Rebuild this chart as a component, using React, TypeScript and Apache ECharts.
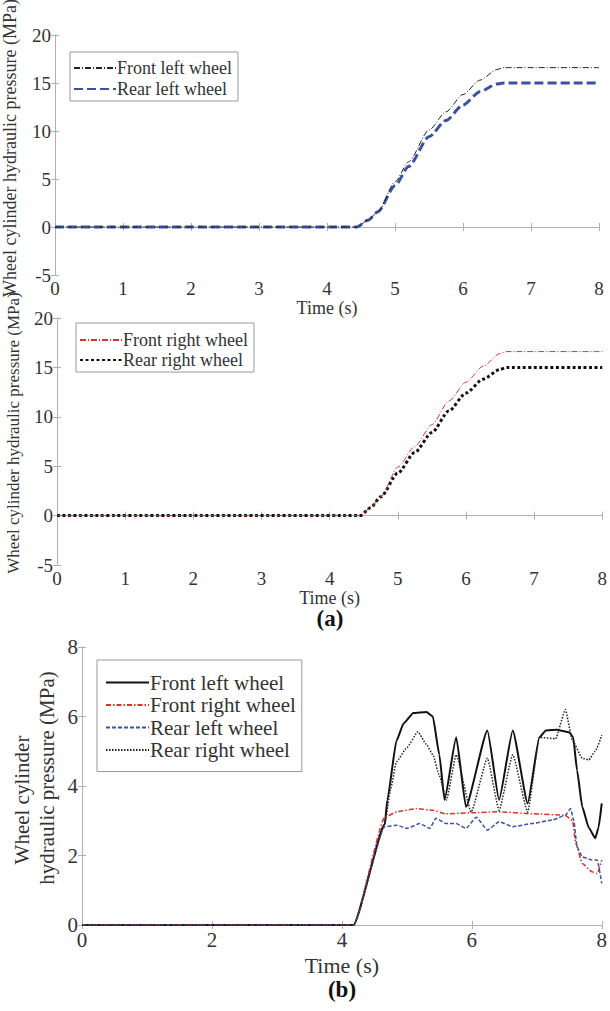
import React, { useEffect, useRef } from "react";
import * as echarts from "echarts";

// ---- Panel (a) top: left wheels ----
const T1 = [0, 4.44, 4.6, 4.75, 5.0, 5.2, 5.5, 5.75, 6.0, 6.25, 6.5, 6.6, 8];
const FL1 = [0, 0, 0.7, 1.6, 4.7, 6.8, 10.1, 12.0, 13.8, 15.3, 16.4, 16.6, 16.6];
const RL1 = [0, 0, 0.7, 1.6, 4.3, 6.3, 9.4, 11.1, 12.7, 14.1, 14.9, 15.0, 15.0];

// ---- Panel (a) bottom: right wheels ----
const T2 = [0, 4.45, 4.6, 4.75, 5.0, 5.25, 5.5, 5.75, 6.0, 6.25, 6.5, 6.6, 8];
const FR2 = [0, 0, 0.8, 1.9, 4.9, 7.0, 9.2, 11.6, 13.5, 15.1, 16.4, 16.6, 16.6];
const RR2 = [0, 0, 0.8, 1.9, 4.3, 6.4, 8.4, 10.6, 12.4, 13.8, 14.8, 15.0, 15.0];

// ---- Panel (b) ----
const T3_FL = [0, 4.18, 4.66, 4.7, 4.84, 4.95, 5.1, 5.3, 5.4, 5.5, 5.58, 5.76, 5.91, 6.24, 6.42, 6.63, 6.86, 7.04, 7.14, 7.3, 7.5, 7.56, 7.62, 7.7, 7.8, 7.9, 7.95, 8.0];
const V3_FL = [0, 0, 2.9, 3.6, 5.3, 5.8, 6.1, 6.13, 6.0, 4.9, 3.6, 5.4, 3.4, 5.6, 3.6, 5.6, 3.5, 5.4, 5.6, 5.62, 5.55, 5.4, 4.45, 3.4, 2.8, 2.5, 2.8, 3.5];
const T3_FR = [0, 4.18, 4.66, 4.85, 5.15, 5.4, 5.6, 6.0, 6.4, 6.93, 7.44, 7.55, 7.6, 7.7, 7.85, 7.93, 8.0];
const V3_FR = [0, 0, 3.1, 3.26, 3.35, 3.3, 3.2, 3.23, 3.26, 3.2, 3.16, 3.0, 2.35, 1.77, 1.53, 1.48, 1.87];
const T3_RL = [0, 4.18, 4.66, 4.85, 5.0, 5.2, 5.35, 5.45, 5.6, 5.76, 5.91, 6.07, 6.24, 6.42, 6.63, 6.93, 7.24, 7.44, 7.52, 7.57, 7.62, 7.7, 7.85, 7.93, 8.0];
const V3_RL = [0, 0, 2.83, 2.87, 2.78, 2.92, 2.78, 3.07, 2.92, 2.92, 2.78, 3.1, 2.73, 2.97, 2.83, 2.92, 3.02, 3.16, 3.35, 3.0, 2.25, 1.96, 1.87, 1.87, 1.2];
const T3_RR = [0, 4.18, 4.66, 4.75, 4.84, 5.0, 5.17, 5.3, 5.4, 5.5, 5.61, 5.76, 5.99, 6.24, 6.42, 6.63, 6.86, 7.04, 7.29, 7.44, 7.55, 7.7, 7.8, 7.9, 8.0];
const V3_RR = [0, 0, 2.9, 3.9, 4.7, 5.1, 5.56, 5.2, 4.9, 4.3, 3.6, 4.9, 3.25, 4.8, 3.3, 4.9, 3.25, 5.4, 5.36, 6.2, 5.3, 4.8, 4.75, 5.0, 5.46];

const X_TICKS_A = [0, 8, 1];
const Y_TICKS_A = [-5, 20, 5];
const X_TICKS_B = [0, 8, 2];
const Y_TICKS_B = [0, 8, 2];

const Y_LABEL = "Wheel cylinder hydraulic pressure (MPa)";
const Y_LABEL_B1 = "Wheel cylinder";
const Y_LABEL_B2 = "hydraulic pressure (MPa)";
const X_LABEL = "Time (s)";

const SERIF = "'Liberation Serif', 'Times New Roman', serif";
const FRAME = "#b0b0b0";
const TXT = "#333";

const zip = (t: number[], v: number[]) => t.map((x, i) => [x, v[i]]);

export default function App() {
  const ref = useRef<HTMLDivElement>(null);
  useEffect(() => {
    document.body.style.margin = "0";
    const chart = echarts.init(ref.current!, null, { renderer: "svg" });

    const grids = [
      { left: 55, right: 11, top: 35, height: 240 },
      { left: 57, right: 4, top: 318, height: 247 },
      { left: 82, right: 7, top: 647, height: 278 },
    ];
    const xs = [X_TICKS_A, X_TICKS_A, X_TICKS_B];
    const ys = [Y_TICKS_A, Y_TICKS_A, Y_TICKS_B];
    const fs = [19, 19, 21];
    const nameGapsX = [15, 21, 29];
    const nameFs = [18, 18, 22];

    const xAxis: any[] = [];
    const yAxis: any[] = [];
    [0, 1, 2].forEach((g) => {
      xAxis.push({
        type: "value", gridIndex: g, min: xs[g][0], max: xs[g][1], interval: xs[g][2],
        position: "bottom",
        name: X_LABEL, nameLocation: "middle", nameGap: nameGapsX[g],
        nameTextStyle: { fontFamily: SERIF, fontSize: nameFs[g], color: TXT },
        axisLine: { show: true, lineStyle: { color: FRAME } },
        axisTick: { show: true, inside: true, length: 4, lineStyle: { color: FRAME } },
        axisLabel: { fontFamily: SERIF, fontSize: fs[g], color: TXT, margin: 4 },
        splitLine: { show: false },
      });
      yAxis.push({
        type: "value", gridIndex: g, min: ys[g][0], max: ys[g][1], interval: ys[g][2],
        position: "left",
        axisLine: { show: true, lineStyle: { color: FRAME } },
        axisTick: { show: true, inside: true, length: 4, lineStyle: { color: FRAME } },
        axisLabel: { fontFamily: SERIF, fontSize: fs[g], color: TXT, margin: 4 },
        splitLine: { show: false },
      });
    });
    [0, 1, 2].forEach((g) => {
      xAxis.push({
        type: "value", gridIndex: g, min: xs[g][0], max: xs[g][1], interval: xs[g][2],
        position: "top",
        axisLine: { show: true, lineStyle: { color: FRAME } },
        axisTick: { show: true, inside: true, length: 4, lineStyle: { color: FRAME } },
        axisLabel: { show: false }, splitLine: { show: false },
      });
      yAxis.push({
        type: "value", gridIndex: g, min: ys[g][0], max: ys[g][1], interval: ys[g][2],
        position: "right",
        axisLine: { show: true, lineStyle: { color: FRAME } },
        axisTick: { show: true, inside: true, length: 4, lineStyle: { color: FRAME } },
        axisLabel: { show: false }, splitLine: { show: false },
      });
    });

    const line = (name: string, g: number, data: number[][], lineStyle: any, extra: any = {}) => ({
      type: "line", name, xAxisIndex: g, yAxisIndex: g, data,
      symbol: "none", smooth: 0.25, smoothMonotone: "x",
      lineStyle, itemStyle: { color: lineStyle.color }, z: 3, ...extra,
    });

    const series = [
      line("a1|Front left wheel", 0, zip(T1, FL1), { color: "#222", width: 1, type: [6, 2, 1, 2] }, { z: 4 }),
      line("a1|Rear left wheel", 0, zip(T1, RL1), { color: "#3a52a2", width: 3, type: [9, 4] }),
      line("a2|Front right wheel", 1, zip(T2, FR2), { color: "#d8342f", width: 1, type: [6, 2, 1, 2] }, { z: 4 }),
      line("a2|Rear right wheel", 1, zip(T2, RR2), { color: "#111", width: 3, type: [3, 2.5] }),
      line("b|Front left wheel", 2, zip(T3_FL, V3_FL), { color: "#111", width: 2, type: "solid" }, { smooth: 0.15 }),
      line("b|Front right wheel", 2, zip(T3_FR, V3_FR), { color: "#e0302a", width: 1.5, type: [5, 2, 1.5, 2] }, { smooth: 0.15 }),
      line("b|Rear left wheel", 2, zip(T3_RL, V3_RL), { color: "#3a52a8", width: 1.5, type: [4, 2] }, { smooth: 0.15 }),
      line("b|Rear right wheel", 2, zip(T3_RR, V3_RR), { color: "#222", width: 1.5, type: [1.5, 1.5] }, { smooth: 0.15 }),
    ];

    const legendBase = {
      orient: "vertical", backgroundColor: "#fff", borderColor: "#999", borderWidth: 1,
      borderRadius: 0, selectedMode: false,
      itemStyle: { opacity: 0 },
      formatter: (n: string) => n.split("|")[1],
    };

    chart.setOption({
      animation: false,
      grid: grids.map((g) => ({ ...g, show: false, containLabel: false })),
      xAxis, yAxis, series,
      legend: [
        { ...legendBase, left: 70, top: 52, padding: [7, 6, 3, 3], itemWidth: 42, itemHeight: 10, itemGap: 3,
          textStyle: { fontFamily: SERIF, fontSize: 18, lineHeight: 18, color: TXT, padding: [0, 0, 0, -4] },
          data: ["a1|Front left wheel", "a1|Rear left wheel"] },
        { ...legendBase, left: 76, top: 323, padding: [8, 6, 3, 3], itemWidth: 42, itemHeight: 10, itemGap: 2,
          textStyle: { fontFamily: SERIF, fontSize: 18, lineHeight: 18, color: TXT, padding: [0, 0, 0, -4] },
          data: ["a2|Front right wheel", "a2|Rear right wheel"] },
        { ...legendBase, left: 97, top: 660, padding: [12, 6, 11, 8], itemWidth: 43, itemHeight: 10, itemGap: 1.5,
          textStyle: { fontFamily: SERIF, fontSize: 21, lineHeight: 21, color: TXT, padding: [0, 0, 0, -4] },
          data: ["b|Front left wheel", "b|Front right wheel", "b|Rear left wheel", "b|Rear right wheel"] },
      ],
      graphic: [
        { type: "text", x: 10, y: 148, rotation: Math.PI / 2,
          style: { text: Y_LABEL, font: `18px ${SERIF}`, fill: TXT, align: "center", verticalAlign: "middle" } },
        { type: "text", x: 13, y: 433, rotation: Math.PI / 2,
          style: { text: Y_LABEL, font: `17px ${SERIF}`, fill: TXT, align: "center", verticalAlign: "middle" } },
        { type: "text", x: 22, y: 800, rotation: Math.PI / 2,
          style: { text: Y_LABEL_B1, font: `21px ${SERIF}`, fill: TXT, align: "center", verticalAlign: "middle" } },
        { type: "text", x: 47, y: 778, rotation: Math.PI / 2,
          style: { text: Y_LABEL_B2, font: `21px ${SERIF}`, fill: TXT, align: "center", verticalAlign: "middle" } },
        { type: "text", x: 330, y: 618,
          style: { text: "(a)", font: `bold 23px ${SERIF}`, fill: "#111", align: "center", verticalAlign: "middle" } },
        { type: "text", x: 342, y: 989,
          style: { text: "(b)", font: `bold 23px ${SERIF}`, fill: "#111", align: "center", verticalAlign: "middle" } },
      ],
    });
    return () => chart.dispose();
  }, []);
  return <div ref={ref} style={{ width: 610, height: 1011 }} />;
}
